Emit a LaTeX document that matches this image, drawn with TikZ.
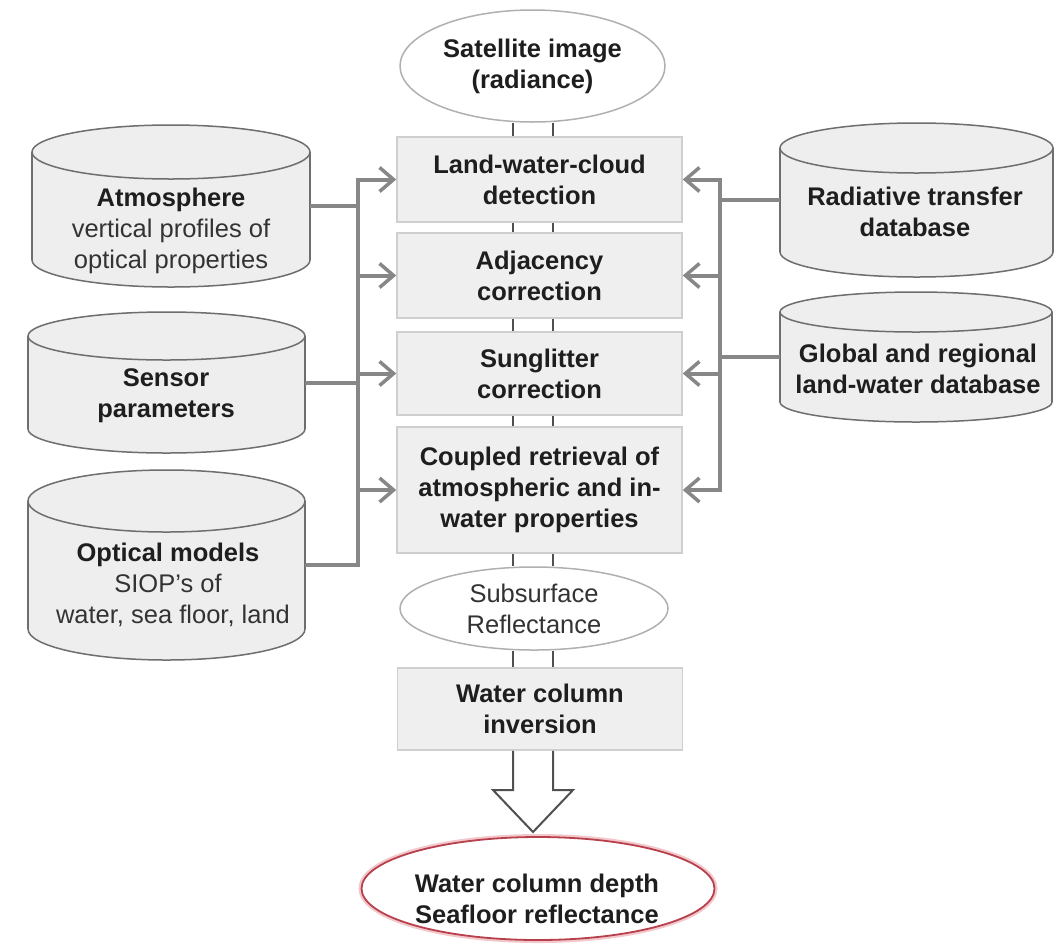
\documentclass[tikz,border=0pt]{standalone}
\usepackage{fontspec}
\setmainfont{Liberation Sans}
\usetikzlibrary{arrows.meta,shapes.geometric,backgrounds,calc}
\definecolor{boxfill}{HTML}{EFEFEF}
\definecolor{boxline}{HTML}{CFCFCF}
\definecolor{cylfill}{HTML}{EEEEEE}
\definecolor{cylline}{HTML}{6E6E6E}
\definecolor{connc}{HTML}{878787}
\definecolor{twinc}{HTML}{505050}
\definecolor{txtdark}{HTML}{1E1E1E}
\definecolor{txtreg}{HTML}{333333}
\definecolor{ovalline}{HTML}{B0B0B0}
\definecolor{resline}{HTML}{B8404C}
\definecolor{resglow}{HTML}{F2C8CC}
\newcommand\mycyl[6]{%
  \node[inner sep=0pt, minimum width={(#3-#2)*1pt}, minimum height={(#5-#4)*1pt}] (#1) at ({(#2+#3)/2},{(#4+#5)/2}) {};
  \fill[cylfill] (#2,{#4+#6}) rectangle (#3,{#5-#6});
  \path[fill=cylfill, draw=cylline, line width=1.5pt] ({(#2+#3)/2},{#5-#6}) ellipse [x radius={(#3-#2)/2*1pt}, y radius={#6*1pt}];
  \fill[cylfill] (#2,{#4+#6}) rectangle (#3,{#5-#6});
  \draw[cylline, line width=1.5pt] (#2,{#4+#6}) -- (#2,{#5-#6}) (#3,{#4+#6}) -- (#3,{#5-#6});
  \path[fill=cylfill, draw=cylline, line width=1.5pt] ({(#2+#3)/2},{#4+#6}) ellipse [x radius={(#3-#2)/2*1pt}, y radius={#6*1pt}];
}
\begin{document}
\begin{tikzpicture}[x=1pt,y=-1pt,
  every node/.style={font=\fontsize{25.5}{31}\selectfont, align=center},
  txtb/.style={font=\fontsize{25.5}{31}\selectfont\bfseries, text=txtdark, inner sep=0pt},
  txtr/.style={font=\fontsize{25.5}{31}\selectfont, text=txtreg, inner sep=0pt},
  box/.style={rectangle, fill=boxfill, draw=boxline, line width=1.5pt, minimum width=285pt, inner sep=0pt, font=\fontsize{25.5}{31}\selectfont\bfseries, text=txtdark},
  oval/.style={ellipse, fill=white, draw=ovalline, line width=1.5pt, inner sep=0pt},
  conn/.style={draw=connc, line width=4pt, line join=miter},
  tipb/.tip={Straight Barb[length=14pt, width=24pt, line width=3.5pt]},
  twin/.style={draw=twinc, line width=2.5pt},
  blockarr/.style={fill=white, draw=twinc, line width=2pt, line join=miter}
]
\useasboundingbox (0,0) rectangle (1056,951);

% helper coordinates
\coordinate (lbus) at (358,0);
\coordinate (rbus) at (720,0);
\coordinate (tl) at (513,0);
\coordinate (tr) at (553,0);

% central column
\node[oval, minimum width=265pt, minimum height=112pt, font=\fontsize{25.5}{31}\selectfont\bfseries, text=txtdark] (sat) at (532.5,66) {Satellite image\\(radiance)};
\node[box, minimum height=85pt] (b1) at (539.5,179.5) {Land-water-cloud\\detection};
\node[box, minimum height=85pt] (b2) at (539.5,275.5) {Adjacency\\correction};
\node[box, minimum height=83pt] (b3) at (539.5,373.5) {Sunglitter\\correction};
\node[box, minimum height=126pt] (b4) at (539.5,490) {Coupled retrieval of\\atmospheric and in-\\water properties};
\node[oval, minimum width=268pt, minimum height=83pt, text=txtreg] (sub) at (534,608.5) {Subsurface\\Reflectance};
\node[box, minimum height=82pt] (b5) at (540,709) {Water column\\inversion};
\node[ellipse, fill=white, draw=resline, line width=1.8pt, preaction={draw=resglow, line width=6pt}, minimum width=353pt, minimum height=103pt, inner sep=0pt] (res) at (538,888.5) {};
\node[txtb] (restxt) at (537,899) {Water column depth\\Seafloor reflectance};

% twin connector lines (behind the nodes)
\begin{scope}[on background layer]
  \fill[white] (0,0) rectangle (1056,951);
  \foreach \a/\b in {sat/b1, b1/b2, b2/b3, b3/b4, b4/sub, sub/b5}{
    \draw[twin] (tl |- \a.south) -- (tl |- \b.north);
    \draw[twin] (tr |- \a.south) -- (tr |- \b.north);
  }
\end{scope}

% block arrow
\coordinate (tip) at (533,832);
\draw[blockarr] (tl |- b5.south) -- (513,790) -- (493,790) -- (tip) -- (573,790) -- (553,790) -- (tr |- b5.south);

% cylinders
\mycyl{atm}{32}{310}{125}{287}{27}
\mycyl{sen}{28}{305}{312}{453}{24}
\mycyl{opt}{28}{305}{470}{660}{31}
\mycyl{rad}{780}{1053}{123}{277}{25}
\mycyl{glob}{780}{1052}{292}{422}{20}

\node[txtr] (atmtxt) at (171,231) {\textbf{\color{txtdark}Atmosphere}\\vertical profiles of\\optical properties};
\node[txtb] (sentxt) at (166,396) {Sensor\\parameters};
\node[txtr] (opttxt) at (168,585) {\textbf{\color{txtdark}Optical models}\\SIOP's of\\\hspace*{10pt}water, sea floor, land};
\node[txtb] (radtxt) at (915,212) {Radiative transfer\\database};
\node[txtb] (globtxt) at (918,369) {Global and regional\\land-water database};

% left connectors
\draw[conn] (atm.east) -- (atm.east -| lbus);
\draw[conn] (sen.east) -- (sen.east -| lbus);
\draw[conn, {tipb}-] (b1.west) -- (lbus |- b1.west) -- (lbus |- opt.east) -- (opt.east);
\draw[conn, -{tipb}] (lbus |- b2.west) -- (b2.west);
\draw[conn, -{tipb}] (lbus |- b3.west) -- (b3.west);
\draw[conn, -{tipb}] (lbus |- b4.west) -- (b4.west);

% right connectors
\draw[conn] (rad.west) -- (rad.west -| rbus);
\draw[conn] (glob.west) -- (glob.west -| rbus);
\draw[conn, {tipb}-{tipb}] (b1.east) -- (rbus |- b1.east) -- (rbus |- b4.east) -- (b4.east);
\draw[conn, -{tipb}] (rbus |- b2.east) -- (b2.east);
\draw[conn, -{tipb}] (rbus |- b3.east) -- (b3.east);
\end{tikzpicture}
\end{document}
